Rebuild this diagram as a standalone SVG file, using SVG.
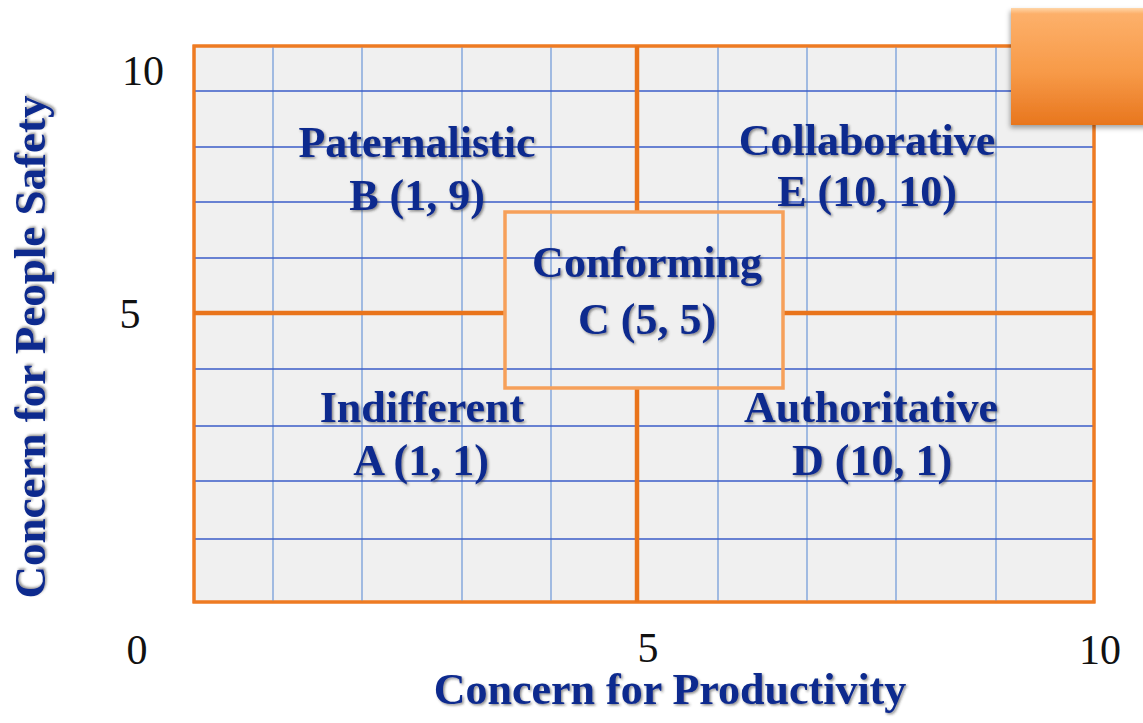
<svg xmlns="http://www.w3.org/2000/svg" width="1143" height="723" viewBox="0 0 1143 723">
  <defs>
    <style>
      .hgrid { stroke: #3b5cc9; stroke-width: 1.6; }
      .vgrid { stroke: #7ea3da; stroke-width: 1.4; }
      .mid { stroke: #e9741b; stroke-width: 4.5; fill: none; }
      .frame { stroke: #ee7b22; stroke-width: 3; fill: #f0f0f0; }
      .label { font-family: "Liberation Serif", "Times New Roman", serif; font-weight: bold; font-size: 44px; fill: #0b2a8e; text-anchor: middle; filter: url(#txtShadow); }
      .tick { font-family: "Liberation Serif", "Times New Roman", serif; font-size: 42px; fill: #111; text-anchor: middle; }
    </style>
    <filter id="txtShadow" x="-10%" y="-30%" width="120%" height="160%">
      <feDropShadow dx="1.5" dy="1.5" stdDeviation="1" flood-color="#333" flood-opacity="0.55"/>
    </filter>
    <filter id="boxShadow" x="-20%" y="-20%" width="140%" height="140%">
      <feDropShadow dx="-1" dy="3" stdDeviation="2.5" flood-color="#000" flood-opacity="0.35"/>
    </filter>
    <linearGradient id="orangeFill" x1="0" y1="0" x2="0" y2="1">
      <stop offset="0" stop-color="#ffd6a8"/>
      <stop offset="0.05" stop-color="#fdb06a"/>
      <stop offset="0.55" stop-color="#f79a48"/>
      <stop offset="1" stop-color="#e8761e"/>
    </linearGradient>
  </defs>

  <rect width="1143" height="723" fill="#ffffff"/>

  <!-- plotting area with grid -->
  <g id="grid">
    <rect class="frame" x="194" y="46" width="900" height="556"/>
    <g class="vgrid">
      <line x1="273" y1="46" x2="273" y2="602"/>
      <line x1="362" y1="46" x2="362" y2="602"/>
      <line x1="462" y1="46" x2="462" y2="602"/>
      <line x1="551" y1="46" x2="551" y2="602"/>
      <line x1="718" y1="46" x2="718" y2="602"/>
      <line x1="807" y1="46" x2="807" y2="602"/>
      <line x1="896" y1="46" x2="896" y2="602"/>
      <line x1="996" y1="46" x2="996" y2="602"/>
    </g>
    <g class="hgrid">
      <line x1="194" y1="91" x2="1094" y2="91"/>
      <line x1="194" y1="147" x2="1094" y2="147"/>
      <line x1="194" y1="202" x2="1094" y2="202"/>
      <line x1="194" y1="258" x2="1094" y2="258"/>
      <line x1="194" y1="369" x2="1094" y2="369"/>
      <line x1="194" y1="426" x2="1094" y2="426"/>
      <line x1="194" y1="481" x2="1094" y2="481"/>
      <line x1="194" y1="539" x2="1094" y2="539"/>
    </g>
    <rect x="194" y="46" width="900" height="556" fill="none" stroke="#ee7b22" stroke-width="3"/>
  </g>

  <!-- quadrant dividers -->
  <g id="connectors">
    <line class="mid" x1="637" y1="46" x2="637" y2="212"/>
    <line class="mid" x1="637" y1="388" x2="637" y2="602"/>
    <line class="mid" x1="194" y1="313" x2="505" y2="313"/>
    <line class="mid" x1="783" y1="313" x2="1094" y2="313"/>
  </g>

  <g id="paternalistic">
    <text class="label" x="417" y="157">Paternalistic</text>
    <text class="label" x="417" y="210">B (1, 9)</text>
  </g>

  <g id="collaborative">
    <text class="label" x="867" y="155">Collaborative</text>
    <text class="label" x="867" y="206">E (10, 10)</text>
  </g>

  <g id="conforming">
    <rect x="505" y="212" width="278" height="176" fill="none" stroke="#f6a05a" stroke-width="3.5"/>
    <text class="label" x="647" y="277">Conforming</text>
    <text class="label" x="647" y="334">C (5, 5)</text>
  </g>

  <g id="indifferent">
    <text class="label" x="422" y="422">Indifferent</text>
    <text class="label" x="421" y="475">A (1, 1)</text>
  </g>

  <g id="authoritative">
    <text class="label" x="871" y="422">Authoritative</text>
    <text class="label" x="872" y="475">D (10, 1)</text>
  </g>

  <!-- axis scale values -->
  <g id="ticks">
    <text class="tick" x="143" y="85">10</text>
    <text class="tick" x="130" y="328">5</text>
    <text class="tick" x="137" y="664">0</text>
    <text class="tick" x="648" y="662">5</text>
    <text class="tick" x="1100" y="664">10</text>
  </g>

  <!-- axis titles -->
  <g id="axis-titles">
    <text class="label" x="670" y="704">Concern for Productivity</text>
    <text class="label" style="font-size:45px" transform="translate(45 347) rotate(-90)" x="0" y="0">Concern for People Safety</text>
  </g>

  <!-- corner badge -->
  <g id="badge">
    <rect x="1011" y="8" width="150" height="117" fill="url(#orangeFill)" filter="url(#boxShadow)"/>
  </g>
</svg>
